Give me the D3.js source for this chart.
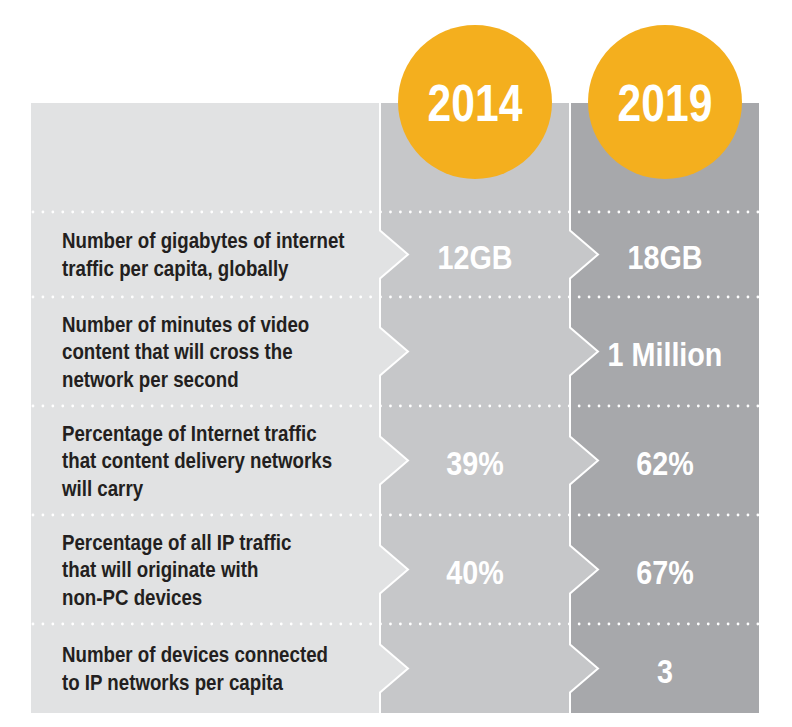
<!DOCTYPE html>
<html>
<head>
<meta charset="utf-8">
<script src="https://cdn.jsdelivr.net/npm/d3@7/dist/d3.min.js"></script>
<style>
  html, body { margin: 0; padding: 0; background: #ffffff; }
  svg { display: block; }
  .cond { font-family: "Liberation Sans", Arial, sans-serif; font-weight: bold; }
</style>
</head>
<body>
<svg id="chart" width="792" height="727"></svg>
<script>
// ---- data ----
const years = ["2014", "2019"];
const labels = [
  ["Number of gigabytes of internet", "traffic per capita, globally"],
  ["Number of minutes of video", "content that will cross the", "network per second"],
  ["Percentage of Internet traffic", "that content delivery networks", "will carry"],
  ["Percentage of all IP traffic", "that will originate with", "non-PC devices"],
  ["Number of devices connected", "to IP networks per capita"]
];
const values2014 = ["12GB", "", "39%", "40%", ""];
const values2019 = ["18GB", "1 Million", "62%", "67%", "3"];

// ---- layout ----
const panelLeft = 31, panelTop = 103, panelBottom = 713;
const firstRowTop = 212;
const colorLabel = "#e1e2e3", col2014 = "#c6c7c9", col2019 = "#a7a8ab";
const orange = "#f4af1e", dark = "#231f20";

const svg = d3.select("#chart");

const x = d3.scaleBand().domain(years).range([380, 760]);
const colFill = d3.scaleOrdinal().domain(years).range([col2014, col2019]);

// row layout from number of label lines
const rows = [];
let yTop = firstRowTop;
labels.forEach((l, i) => {
  const h = (i === labels.length - 1) ? (panelBottom - yTop) : 37 + 24 * l.length;
  rows.push({ i, top: yTop, bottom: yTop + h, mid: yTop + h / 2, label: l, v2014: values2014[i], v2019: values2019[i] });
  yTop += h;
});

// backgrounds
svg.append("rect").attr("x", panelLeft).attr("y", panelTop)
  .attr("width", x("2014") - panelLeft).attr("height", panelBottom - panelTop).attr("fill", colorLabel);
svg.selectAll("rect.col").data(years).join("rect").attr("class", "col")
  .attr("x", d => x(d)).attr("y", panelTop)
  .attr("width", d => d === "2019" ? x.bandwidth() - 1 : x.bandwidth())
  .attr("height", panelBottom - panelTop).attr("fill", d => colFill(d));

// chevrons
const chevHalf = 24, chevDepth = 28;
const boundaries = [
  { x: x("2014"), fill: colorLabel },
  { x: x("2019"), fill: col2014 }
];
boundaries.forEach(b => {
  svg.selectAll(null).data(rows).join("path")
    .attr("d", r => `M${b.x},${r.mid - chevHalf} L${b.x + chevDepth},${r.mid} L${b.x},${r.mid + chevHalf} Z`)
    .attr("fill", b.fill);
  let d = `M${b.x},${panelTop}`;
  rows.forEach(r => {
    d += ` L${b.x},${r.mid - chevHalf} L${b.x + chevDepth},${r.mid} L${b.x},${r.mid + chevHalf}`;
  });
  d += ` L${b.x},${panelBottom}`;
  svg.append("path").attr("d", d).attr("fill", "none")
    .attr("stroke", "#ffffff").attr("stroke-width", 2);
});

// dotted separators
svg.selectAll("line.sep").data(rows).join("line").attr("class", "sep")
  .attr("x1", panelLeft + 2).attr("x2", 758)
  .attr("y1", r => r.top).attr("y2", r => r.top)
  .attr("stroke", "#ffffff").attr("stroke-width", 2.8)
  .attr("stroke-linecap", "round").attr("stroke-dasharray", "0 9.93");

// labels
const lineH = 27.5;
rows.forEach(r => {
  const n = r.label.length;
  const t = svg.append("text").attr("class", "cond")
    .attr("transform", `translate(62,0) scale(0.87,1)`)
    .attr("font-size", 21.5).attr("fill", dark);
  r.label.forEach((line, k) => {
    t.append("tspan").attr("x", 0)
      .attr("y", r.mid + (k - (n - 1) / 2) * lineH + 7.7)
      .text(line);
  });
});

// values
const vals = [];
rows.forEach(r => {
  vals.push({ year: "2014", text: r.v2014, mid: r.mid });
  vals.push({ year: "2019", text: r.v2019, mid: r.mid });
});
svg.selectAll("text.val").data(vals.filter(v => v.text)).join("text")
  .attr("class", "val cond")
  .attr("transform", v => `translate(${x(v.year) + x.bandwidth() / 2},${v.mid + 14}) scale(0.87,1)`)
  .attr("text-anchor", "middle").attr("font-size", 33).attr("fill", "#ffffff")
  .text(v => v.text);

// year circles
svg.selectAll("circle.yr").data(years).join("circle").attr("class", "yr")
  .attr("cx", d => x(d) + x.bandwidth() / 2).attr("cy", 102).attr("r", 77)
  .attr("fill", orange);
svg.selectAll("text.yr").data(years).join("text").attr("class", "yr cond")
  .attr("transform", d => `translate(${x(d) + x.bandwidth() / 2},121) scale(0.82,1)`)
  .attr("text-anchor", "middle").attr("font-size", 52).attr("fill", "#ffffff")
  .text(d => d);
</script>
</body>
</html>
